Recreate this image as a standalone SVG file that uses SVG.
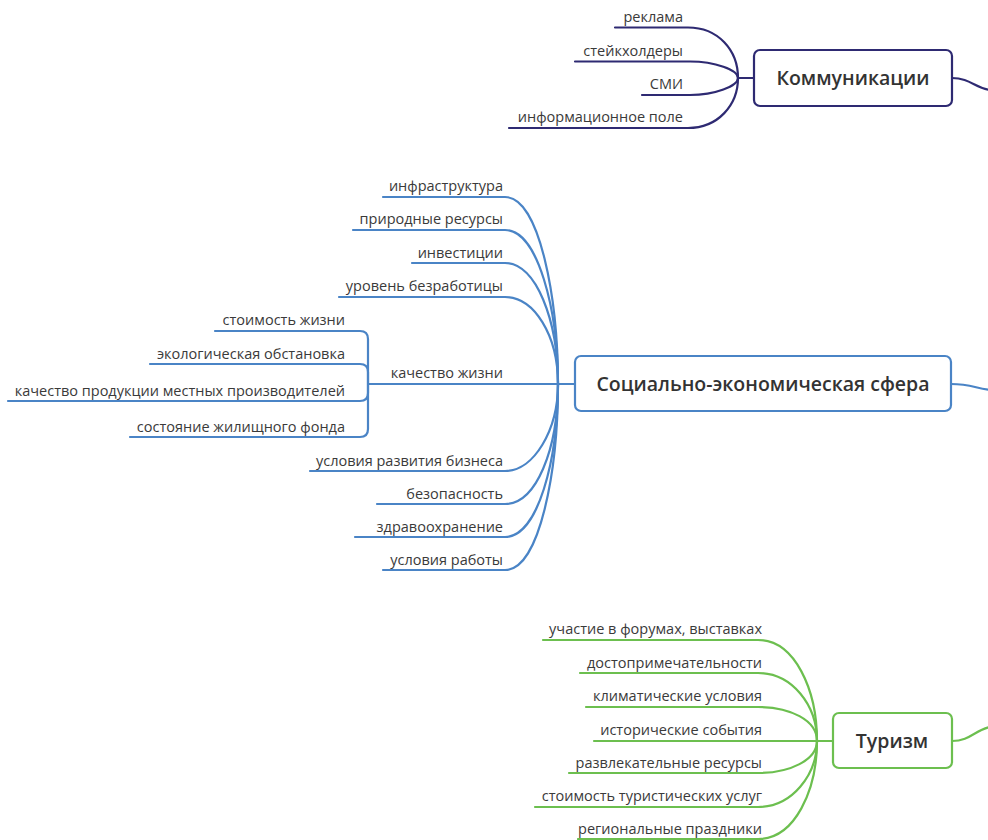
<svg xmlns="http://www.w3.org/2000/svg" width="988" height="840" viewBox="0 0 988 840">
<style>
.t{font-family:"Open Sans","Noto Sans","Liberation Sans",sans-serif;font-size:14.5px;fill:#3a3a3a;text-anchor:end}
.n{font-family:"Open Sans","Noto Sans","Liberation Sans",sans-serif;font-size:19.5px;font-weight:600;fill:#333;text-anchor:middle}
.c{fill:none;stroke-width:2.2;stroke-linecap:round}
.p{stroke:#2e2a72}
.b{stroke:#4a84c6}
.g{stroke:#6cbf4f}
.box{fill:#fff;stroke-width:2.2}
</style>
<rect width="988" height="840" fill="#fff"/>
<g id="connectors">
<g class="c p">
<path d="M615 27.5 H688 C718 27.5 738 50 738 78"/>
<path d="M575 61.5 H690 C715 61.5 738 70 738 78"/>
<path d="M642 95 H690 C715 95 738 86 738 78"/>
<path d="M509 128 H688 C718 128 738 105 738 78"/>
<path d="M738 78 H754"/>
<path d="M952 78 C970 78 975 88 990 90"/>
</g>
<g class="c b">
<path d="M383 197 H505 C540 197 558 300 558 384"/>
<path d="M353 230 H505 C538 230 558 310 558 384"/>
<path d="M412 263 H505 C536 263 558 320 558 384"/>
<path d="M339 297 H505 C534 297 558 335 558 384"/>
<path d="M368 384 H575"/>
<path d="M310 471 H505 C534 471 558 430 558 384"/>
<path d="M377 504 H505 C536 504 558 450 558 384"/>
<path d="M355 537 H505 C538 537 558 460 558 384"/>
<path d="M383 570 H505 C540 570 558 470 558 384"/>
<path d="M215 331 H360 Q368 331 368 339 V384"/>
<path d="M150 364 H360 Q368 364 368 372 V384"/>
<path d="M8 401 H360 Q368 401 368 393 V384"/>
<path d="M130 437 H360 Q368 437 368 429 V384"/>
<path d="M951 384 C970 384 975 388 990 390"/>
</g>
<g class="c g">
<path d="M543 640 H758 C795 640 817 690 817 741"/>
<path d="M580 673 H758 C792 673 817 705 817 741"/>
<path d="M586 707 H758 C790 707 817 720 817 741"/>
<path d="M594 741 H833"/>
<path d="M569 773 H758 C790 773 817 760 817 741"/>
<path d="M535 807 H758 C792 807 817 775 817 741"/>
<path d="M578 839 H758 C795 839 817 790 817 741"/>
<path d="M952 741 C970 741 975 730 990 727"/>
</g>
</g>
<g id="node-communications">
<rect class="box p" x="754" y="50" width="198" height="56" rx="6"/>
<text class="n" x="853" y="85">Коммуникации</text>
</g>
<g id="leaf-reklama"><text class="t" x="683" y="22">реклама</text></g>
<g id="leaf-stakeholders"><text class="t" x="683" y="56">стейкхолдеры</text></g>
<g id="leaf-smi"><text class="t" x="683" y="89">СМИ</text></g>
<g id="leaf-infofield"><text class="t" x="683" y="122">информационное поле</text></g>
<g id="node-socioeconomic">
<rect class="box b" x="575" y="356" width="376" height="55" rx="6"/>
<text class="n" x="763" y="391">Социально-экономическая сфера</text>
</g>
<g id="leaf-infra"><text class="t" x="503" y="191">инфраструктура</text></g>
<g id="leaf-nature"><text class="t" x="503" y="224">природные ресурсы</text></g>
<g id="leaf-invest"><text class="t" x="503" y="258">инвестиции</text></g>
<g id="leaf-unemployment"><text class="t" x="503" y="291">уровень безработицы</text></g>
<g id="leaf-quality"><text class="t" x="503" y="378">качество жизни</text></g>
<g id="leaf-cost"><text class="t" x="345" y="325">стоимость жизни</text></g>
<g id="leaf-ecology"><text class="t" x="345" y="359">экологическая обстановка</text></g>
<g id="leaf-products"><text class="t" x="345" y="396">качество продукции местных производителей</text></g>
<g id="leaf-housing"><text class="t" x="345" y="432">состояние жилищного фонда</text></g>
<g id="leaf-business"><text class="t" x="503" y="466">условия развития бизнеса</text></g>
<g id="leaf-safety"><text class="t" x="503" y="499">безопасность</text></g>
<g id="leaf-health"><text class="t" x="503" y="532">здравоохранение</text></g>
<g id="leaf-work"><text class="t" x="503" y="565">условия работы</text></g>
<g id="node-tourism">
<rect class="box g" x="833" y="713" width="119" height="55" rx="6"/>
<text class="n" x="892" y="748">Туризм</text>
</g>
<g id="leaf-forums"><text class="t" x="762" y="634">участие в форумах, выставках</text></g>
<g id="leaf-sights"><text class="t" x="762" y="668">достопримечательности</text></g>
<g id="leaf-climate"><text class="t" x="762" y="701">климатические условия</text></g>
<g id="leaf-history"><text class="t" x="762" y="735">исторические события</text></g>
<g id="leaf-entertainment"><text class="t" x="762" y="768">развлекательные ресурсы</text></g>
<g id="leaf-tourcost"><text class="t" x="762" y="801">стоимость туристических услуг</text></g>
<g id="leaf-holidays"><text class="t" x="762" y="834">региональные праздники</text></g>
</svg>
